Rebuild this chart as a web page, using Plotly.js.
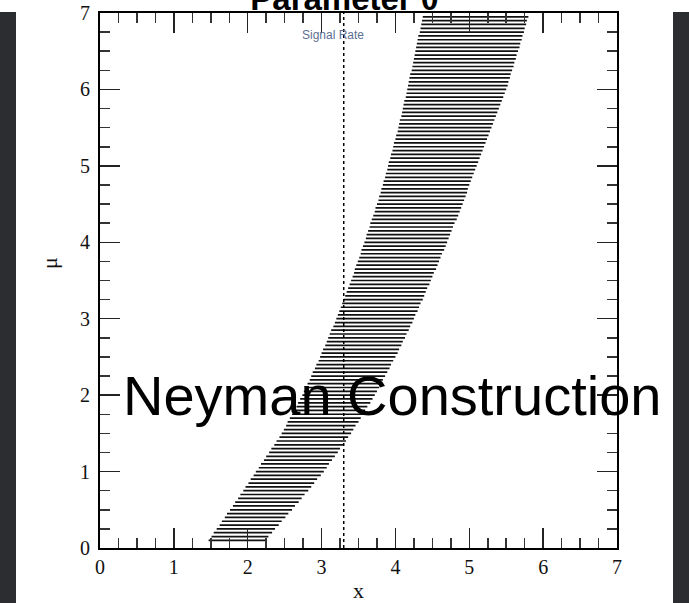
<!DOCTYPE html>
<html>
<head>
<meta charset="utf-8">
<script src="https://cdn.plot.ly/plotly-3.0.1.min.js"></script>
<style>
html,body{margin:0;padding:0;background:#ffffff;}
#chart{width:689px;height:603px;}
</style>
</head>
<body>
<div id="chart"></div>
<script>
// belt rows: mu value and acceptance interval [xLow, xHigh]
const mu = [0.10,0.15,0.20,0.25,0.30,0.35,0.40,0.45,0.50,0.55,0.60,0.65,0.70,0.75,0.80,0.85,0.90,0.95,
1.00,1.05,1.10,1.15,1.20,1.25,1.30,1.35,1.40,1.45,1.50,1.55,1.60,1.65,1.70,1.75,1.80,1.85,1.90,1.95,
2.00,2.05,2.10,2.15,2.20,2.25,2.30,2.35,2.40,2.45,2.50,2.55,2.60,2.65,2.70,2.75,2.80,2.85,2.90,2.95,
3.00,3.05,3.10,3.15,3.20,3.25,3.30,3.35,3.40,3.45,3.50,3.55,3.60,3.65,3.70,3.75,3.80,3.85,3.90,3.95,
4.00,4.05,4.10,4.15,4.20,4.25,4.30,4.35,4.40,4.45,4.50,4.55,4.60,4.65,4.70,4.75,4.80,4.85,4.90,4.95,
5.00,5.05,5.10,5.15,5.20,5.25,5.30,5.35,5.40,5.45,5.50,5.55,5.60,5.65,5.70,5.75,5.80,5.85,5.90,5.95,
6.00,6.05,6.10,6.15,6.20,6.25,6.30,6.35,6.40,6.45,6.50,6.55,6.60,6.65,6.70,6.75,6.80,6.85,6.90,6.95];
const xLow = [1.47,1.51,1.54,1.58,1.62,1.65,1.69,1.72,1.76,1.80,1.83,1.87,1.90,1.94,1.97,2.01,2.04,2.08,
2.11,2.15,2.18,2.22,2.25,2.29,2.32,2.36,2.39,2.43,2.46,2.49,2.52,2.54,2.57,2.60,2.63,2.66,2.68,2.71,
2.74,2.76,2.79,2.81,2.84,2.86,2.88,2.91,2.93,2.96,2.98,3.00,3.02,3.05,3.07,3.09,3.11,3.13,3.16,3.18,
3.20,3.22,3.24,3.26,3.28,3.30,3.32,3.34,3.36,3.38,3.40,3.42,3.44,3.45,3.47,3.49,3.51,3.53,3.54,3.56,
3.58,3.60,3.61,3.63,3.65,3.66,3.68,3.70,3.72,3.73,3.75,3.77,3.78,3.80,3.81,3.83,3.84,3.86,3.87,3.89,
3.90,3.91,3.93,3.94,3.96,3.97,3.98,4.00,4.01,4.03,4.04,4.05,4.06,4.08,4.09,4.10,4.11,4.12,4.14,4.15,
4.16,4.17,4.18,4.19,4.20,4.22,4.23,4.24,4.25,4.26,4.27,4.28,4.29,4.30,4.31,4.33,4.34,4.35,4.36,4.37];
const xHigh = [2.24,2.28,2.33,2.37,2.42,2.46,2.51,2.55,2.60,2.64,2.69,2.73,2.77,2.82,2.86,2.90,2.94,2.99,
3.03,3.07,3.10,3.14,3.18,3.22,3.25,3.29,3.33,3.36,3.40,3.43,3.46,3.50,3.53,3.56,3.59,3.62,3.66,3.69,
3.72,3.75,3.78,3.80,3.83,3.86,3.89,3.92,3.94,3.97,4.00,4.03,4.05,4.08,4.10,4.13,4.15,4.18,4.20,4.23,
4.25,4.27,4.30,4.32,4.34,4.37,4.39,4.41,4.43,4.46,4.48,4.50,4.52,4.55,4.57,4.59,4.61,4.63,4.66,4.68,
4.70,4.72,4.74,4.76,4.78,4.80,4.83,4.85,4.87,4.89,4.91,4.93,4.95,4.97,4.98,5.00,5.02,5.04,5.06,5.08,
5.10,5.12,5.14,5.16,5.18,5.20,5.22,5.24,5.26,5.28,5.30,5.32,5.34,5.36,5.38,5.40,5.42,5.44,5.46,5.48,
5.50,5.52,5.53,5.55,5.56,5.58,5.60,5.61,5.63,5.64,5.66,5.68,5.69,5.71,5.72,5.74,5.75,5.77,5.78,5.80];
const signalRate = 3.3;
const tickValues = [0,1,2,3,4,5,6,7];
const tickLabels = ['0','1','2','3','4','5','6','7'];

const bx = [], by = [];
for (let i = 0; i < mu.length; i++) {
  bx.push(xLow[i], xHigh[i], null);
  by.push(mu[i], mu[i], null);
}

const traces = [
  {type:'scatter', mode:'lines', x:bx, y:by, line:{color:'#111111', width:1.7},
   hoverinfo:'skip', showlegend:false, connectgaps:false},
  {type:'scatter', mode:'lines', x:[signalRate, signalRate], y:[0,7],
   line:{color:'#000000', width:1.5, dash:'dot'}, showlegend:false, hoverinfo:'skip'}
];

const serif = 'Liberation Serif, Times New Roman, serif';
const axisCommon = {
  range:[0,7], showgrid:false, zeroline:false, showline:true, linecolor:'#000000', linewidth:2,
  mirror:'ticks', ticks:'inside', ticklen:20, tickwidth:1.5, tickcolor:'#222222',
  tickvals:tickValues, ticktext:tickLabels,
  tickfont:{family:serif, size:20, color:'#111111'},
  minor:{dtick:0.25, ticks:'inside', ticklen:10, tickwidth:1.5, tickcolor:'#333333', showgrid:false},
  fixedrange:true
};

const layout = {
  width:689, height:603,
  margin:{l:100, r:72, t:13, b:55},
  paper_bgcolor:'#ffffff', plot_bgcolor:'#ffffff',
  title:{text:'Parameter θ', x:0.5, xref:'container', xanchor:'center',
         y:1 - 10/603, yref:'container', yanchor:'bottom',
         font:{family:'Liberation Sans, Arial, sans-serif', size:33, weight:'bold', color:'#000000'}},
  xaxis:Object.assign({}, axisCommon, {
    title:{text:'x', font:{family:serif, size:22, color:'#111111'}, standoff:7}
  }),
  yaxis:Object.assign({}, axisCommon, {ticklabelstandoff:4}),
  showlegend:false,
  shapes:[
    {type:'rect', xref:'paper', yref:'paper', x0:-0.2, x1:-84/517, y0:-0.2, y1:(548-12)/535,
     fillcolor:'#2b2d31', line:{width:0}, layer:'above'},
    {type:'rect', xref:'paper', yref:'paper', x0:573/517, x1:1.2, y0:-0.2, y1:(548-12)/535,
     fillcolor:'#2b2d31', line:{width:0}, layer:'above'}
  ],
  annotations:[
    {text:'μ', xref:'paper', yref:'y', x:-50/517, y:3.73, showarrow:false, textangle:-90,
     font:{family:serif, size:22, color:'#111111'}, xanchor:'center', yanchor:'middle'},
    {text:'Signal Rate', xref:'x', yref:'y', x:3.15, y:6.71, showarrow:false,
     font:{family:'Liberation Sans, Arial, sans-serif', size:12, color:'#5d6f92'}},
    {text:'Neyman Construction', xref:'x', yref:'y', x:3.95, y:2.0, showarrow:false,
     xanchor:'center', yanchor:'middle',
     font:{family:'Liberation Sans, Arial, sans-serif', size:56, color:'#000000'}}
  ]
};

Plotly.newPlot('chart', traces, layout, {displayModeBar:false, staticPlot:true});
</script>
</body>
</html>
